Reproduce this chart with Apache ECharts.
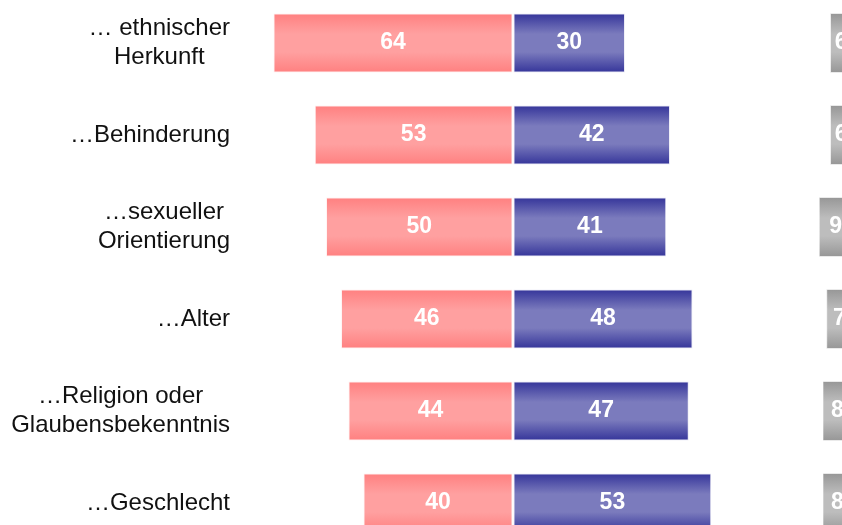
<!DOCTYPE html>
<html>
<head>
<meta charset="utf-8">
<script src="https://cdn.jsdelivr.net/npm/echarts@6/dist/echarts.min.js"></script>
<style>
	html, body { margin: 0; padding: 0; background: #ffffff; }
	#chart { width: 842px; height: 525px; }
</style>
</head>
<body>
<div id="chart"></div>
<script>
// Kategorien und Werte
const categories = ['… ethnischer\nHerkunft', '…Behinderung', '…sexueller\nOrientierung', '…Alter', '…Religion oder\nGlaubensbekenntnis', '…Geschlecht'];
const redValues = [64, 53, 50, 46, 44, 40];
const blueValues = [30, 42, 41, 48, 47, 53];
const grayValues = [6, 6, 9, 7, 8, 8];

const fontFamily = '"Liberation Sans", Arial, sans-serif';

// vertikaler Verlauf: dunkler Rand, heller Kern
const barGradient = (edge, mid) => new echarts.graphic.LinearGradient(0, 0, 0, 1, [
	{ offset: 0, color: edge },
	{ offset: 0.35, color: mid },
	{ offset: 0.65, color: mid },
	{ offset: 1, color: edge }
]);

const valueLabel = {
	show: true,
	position: 'inside',
	color: '#ffffff',
	fontWeight: 'bold',
	fontSize: 23,
	fontFamily: fontFamily,
	formatter: (p) => Math.abs(p.value)
};

const barBorder = {
	borderColor: 'rgba(255,255,255,0.85)',
	borderWidth: 1.5
};

const chart = echarts.init(document.getElementById('chart'));

chart.setOption({
	backgroundColor: '#ffffff',
	animation: false,
	grid: [
		{ left: 250.5, width: 487.5, top: -3, height: 552, outerBoundsMode: 'none' },
		{ left: 740, width: 112.5, top: -3, height: 552, outerBoundsMode: 'none' }
	],
	xAxis: [
		{ gridIndex: 0, type: 'value', min: -70, max: 60, show: false },
		{ gridIndex: 1, type: 'value', min: 0, max: 30, inverse: true, show: false }
	],
	yAxis: [
		{
			gridIndex: 0,
			type: 'category',
			inverse: true,
			data: categories,
			axisLine: { show: false },
			axisTick: { show: false },
			splitLine: { show: false },
			axisLabel: {
				margin: 20.5,
				formatter: (v) => v.split('\n').map(l => '{c|' + l + '}').join('\n'),
				rich: {
					c: {
						align: 'center',
						color: '#111111',
						fontSize: 24,
						lineHeight: 29,
						fontFamily: fontFamily
					}
				}
			}
		},
		{
			gridIndex: 1,
			type: 'category',
			inverse: true,
			data: categories,
			show: false
		}
	],
	series: [
		{
			name: 'rot',
			type: 'bar',
			stack: 'a',
			xAxisIndex: 0,
			yAxisIndex: 0,
			barWidth: 60,
			data: redValues.map(v => -v),
			itemStyle: { color: barGradient('#ff7f7f', '#ffa0a0'), ...barBorder },
			label: valueLabel
		},
		{
			name: 'blau',
			type: 'bar',
			stack: 'a',
			xAxisIndex: 0,
			yAxisIndex: 0,
			barWidth: 60,
			data: blueValues,
			itemStyle: { color: barGradient('#333399', '#7b7bbd'), ...barBorder },
			label: valueLabel
		},
		{
			name: 'grau',
			type: 'bar',
			xAxisIndex: 1,
			yAxisIndex: 1,
			barWidth: 60,
			data: grayValues,
			itemStyle: { color: barGradient('#969696', '#bdbdbd'), borderColor: 'rgba(255,255,255,0.6)', borderWidth: 1 },
			label: valueLabel
		}
	]
});
</script>
</body>
</html>
